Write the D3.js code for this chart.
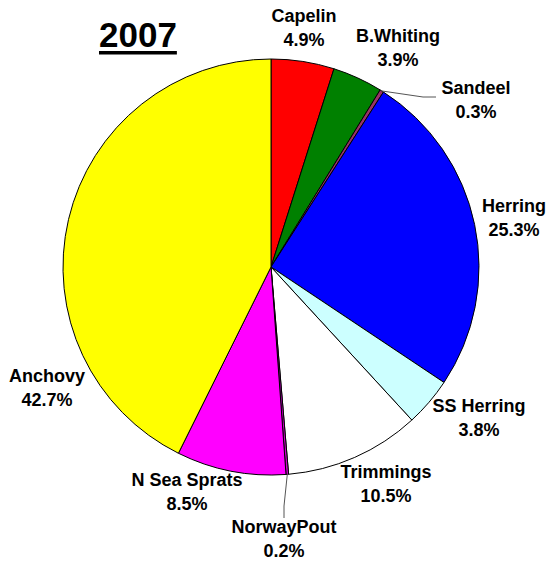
<!DOCTYPE html>
<html>
<head>
<meta charset="utf-8">
<script src="https://cdn.jsdelivr.net/npm/d3@7"></script>
<style>
  body { margin: 0; background: #fff; }
  text { font-family: "Liberation Sans", Arial, sans-serif; font-weight: bold; }
</style>
</head>
<body>
<script>
// Data (clockwise from 12 o'clock)
var species = ["Capelin", "B.Whiting", "Sandeel", "Herring", "SS Herring", "Trimmings", "NorwayPout", "N Sea Sprats", "Anchovy"];
var shares = [4.9, 3.9, 0.3, 25.3, 3.8, 10.5, 0.2, 8.5, 42.7];
var colours = ["#ff0000", "#008000", "#993366", "#0000ff", "#ccffff", "#ffffff", "#cc00cc", "#ff00ff", "#ffff00"];
var year = "2007";

// Layout
var WIDTH = 551, HEIGHT = 562;
var cx = 271, cy = 267, R = 208;
// label centres (first line baseline) relative to page
var labelAt = [[304, 22], [398, 42], [476, 94], [514, 212], [479, 412], [386, 478], [284, 533], [187, 486], [47, 382]];
// leader line bends for the tiny slices
var leaders = { "Sandeel": [[423, 97], [436, 97]], "NorwayPout": [[284, 506], [284, 518]] };

var svg = d3.select("body").append("svg")
    .attr("width", WIDTH)
    .attr("height", HEIGHT);

var pie = d3.pie().sort(null).value(function(d) { return d; });
var arcs = pie(shares);

var arc = d3.arc().innerRadius(0).outerRadius(R);
var edge = d3.arc().innerRadius(R).outerRadius(R);

var g = svg.append("g").attr("transform", "translate(" + cx + "," + cy + ")");

g.selectAll("path.slice").data(arcs).enter().append("path")
    .attr("class", "slice")
    .attr("d", arc)
    .attr("fill", function(d, i) { return colours[i]; })
    .attr("stroke", "#000")
    .attr("stroke-width", 1)
    .attr("stroke-linejoin", "round");

// leader lines
arcs.forEach(function(d, i) {
    var pts = leaders[species[i]];
    if (!pts) return;
    var c = edge.centroid(d);
    var line = [[c[0] + cx, c[1] + cy]].concat(pts);
    svg.append("path")
        .attr("d", d3.line()(line))
        .attr("fill", "none")
        .attr("stroke", "#555")
        .attr("stroke-width", 1);
});

// labels
var labels = svg.selectAll("text.lab").data(species).enter().append("text")
    .attr("class", "lab")
    .attr("text-anchor", "middle")
    .attr("font-size", "18px")
    .attr("x", function(d, i) { return labelAt[i][0]; })
    .attr("y", function(d, i) { return labelAt[i][1]; });
labels.append("tspan").text(function(d) { return d; });
labels.append("tspan")
    .attr("x", function(d, i) { return labelAt[i][0]; })
    .attr("dy", 24)
    .text(function(d, i) { return shares[i].toFixed(1) + "%"; });

// title
var title = svg.append("text")
    .attr("x", 99)
    .attr("y", 47)
    .attr("font-size", "35px")
    .text(year);
var tb = title.node().getBBox();
svg.append("rect")
    .attr("x", tb.x)
    .attr("y", 51)
    .attr("width", tb.width)
    .attr("height", 3.5)
    .attr("fill", "#000");
</script>
</body>
</html>
